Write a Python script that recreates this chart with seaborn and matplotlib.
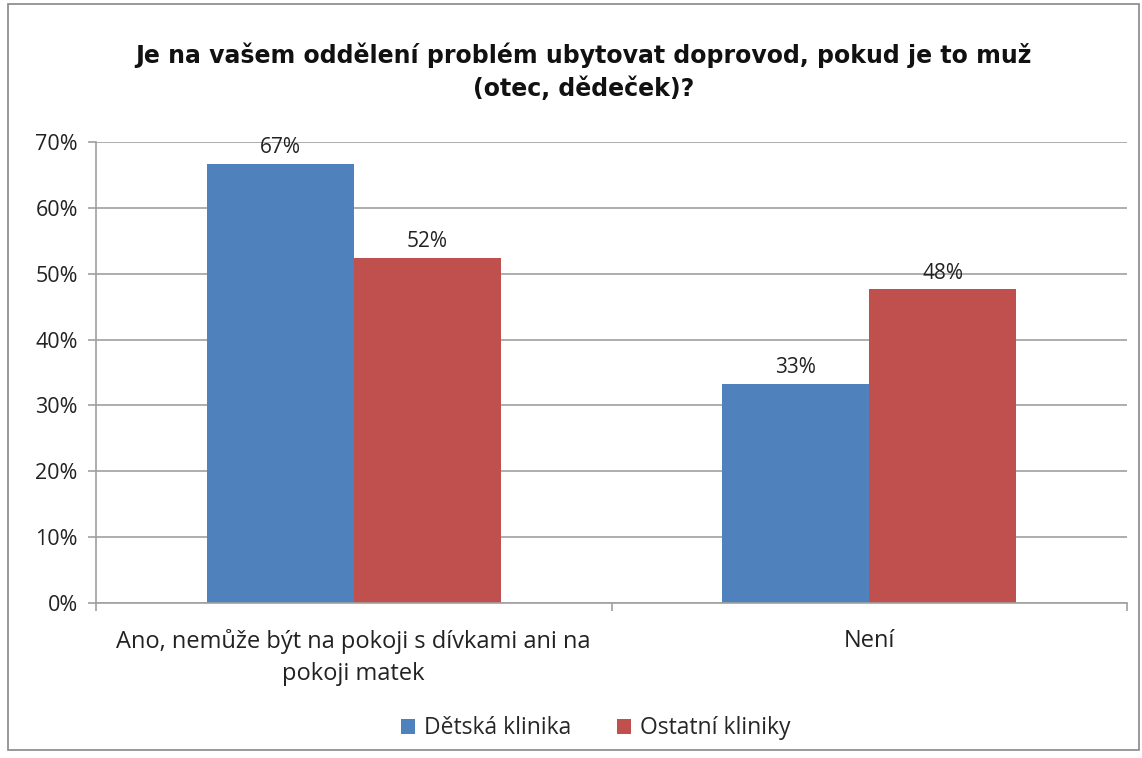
import pandas as pd
import seaborn as sns
import matplotlib.pyplot as plt
from matplotlib.patches import Rectangle

categories = ["Ano, nemůže být na pokoji s dívkami ani na\npokoji matek", "Není"]
series = ["Dětská klinika", "Ostatní kliniky"]
detska = [0.667, 0.333]
ostatni = [0.524, 0.476]
labels_detska = ["67%", "33%"]
labels_ostatni = ["52%", "48%"]
colors = ["#4F81BD", "#C0504D"]

df = pd.DataFrame({
    "kategorie": categories * 2,
    "skupina": [series[0]] * 2 + [series[1]] * 2,
    "podil": detska + ostatni,
})

sns.set_theme(style="white")
plt.rcParams['font.family'] = ['Open Sans', 'DejaVu Sans']

fig = plt.figure(figsize=(11.42, 7.58), dpi=100)
ax = fig.add_axes([0.084, 0.2045, 0.903, 0.6082])

sns.barplot(data=df, x="kategorie", y="podil", hue="skupina", palette=colors,
            width=0.57, saturation=1, ax=ax, legend=True, linewidth=0)

ax.set_ylim(0, 0.7)
ax.set_xlim(-0.5, 1.5)
ax.set_yticks([i / 10 for i in range(8)])
ax.set_yticklabels([f"{i * 10}%" for i in range(8)])
ax.yaxis.grid(True, color="#A0A0A0", linewidth=1.2)
ax.set_axisbelow(True)
ax.set_xlabel("")
ax.set_ylabel("")

for s in ["top", "right"]:
    ax.spines[s].set_visible(False)
for s in ["left", "bottom"]:
    ax.spines[s].set_color("#A0A0A0")
    ax.spines[s].set_linewidth(1.2)

ax.tick_params(axis="y", length=6, color="#A0A0A0", width=1.2, labelsize=15.5, pad=7,
               left=True, labelcolor="#222222")
ax.set_xticks([0, 1])
ax.set_xticklabels(categories, fontsize=17, color="#222222", linespacing=1.45)
ax.tick_params(axis="x", length=0, pad=19)
# category boundary ticks
ax.set_xticks([-0.5, 0.5, 1.5], minor=True)
ax.tick_params(axis="x", which="minor", length=6, color="#A0A0A0", width=1.2, bottom=True)

for cont, labs in zip(ax.containers, [labels_detska, labels_ostatni]):
    ax.bar_label(cont, labels=labs, fontsize=15, padding=4, color="#222222")

fig.text(0.511, 0.905, "Je na vašem oddělení problém ubytovat doprovod, pokud je to muž\n(otec, dědeček)?",
         ha="center", va="center", fontsize=17, fontweight="bold", color="#111111",
         linespacing=1.45, family=["DejaVu Sans"])

ax.legend(loc="center", bbox_to_anchor=(0.485, -0.272), ncol=2, frameon=False,
          fontsize=16.5, handlelength=0.6, handleheight=0.6, columnspacing=2.0,
          handletextpad=0.4)

fig.patches.append(Rectangle((0.007, 0.01), 0.99, 0.985, transform=fig.transFigure,
                             fill=False, edgecolor="#888888", linewidth=1.2))

plt.savefig("out.png", dpi=100)
plt.close()
